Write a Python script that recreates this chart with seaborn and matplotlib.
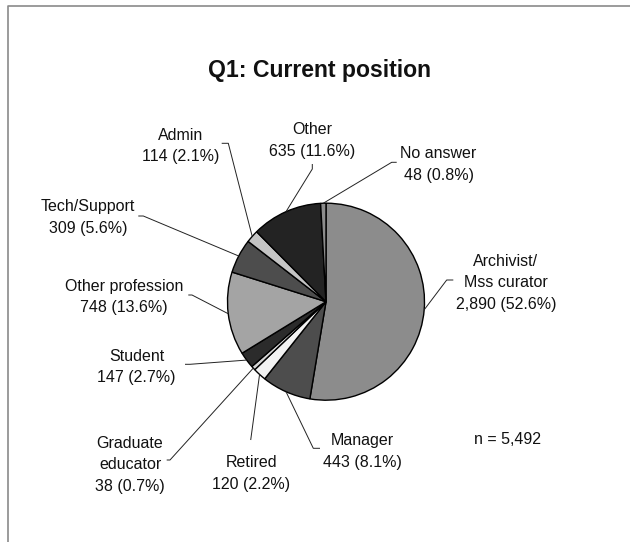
import matplotlib
matplotlib.use("Agg")
import matplotlib.pyplot as plt
import seaborn as sns
import numpy as np
from matplotlib.lines import Line2D

# ---- data ----
categories = ["Archivist/\nMss curator", "Manager", "Retired", "Graduate\neducator",
              "Student", "Other profession", "Tech/Support", "Admin", "Other", "No answer"]
counts = [2890, 443, 120, 38, 147, 748, 309, 114, 635, 48]
pct_labels = ["52.6%", "8.1%", "2.2%", "0.7%", "2.7%", "13.6%", "5.6%", "2.1%", "11.6%", "0.8%"]
slice_colors = ["#8c8c8c", "#4d4d4d", "#f2f2f2", "#d4d4d4", "#2b2b2b",
                "#a4a4a4", "#4d4d4d", "#c4c4c4", "#232323", "#8c8c8c"]
title = "Q1: Current position"

sns.set_theme(style="white")
plt.rcParams["font.family"] = ["Liberation Sans", "DejaVu Sans"]

W, H = 630, 542
fig = plt.figure(figsize=(6.3, 5.42), dpi=100)
fig.patch.set_facecolor("white")
ax = fig.add_axes([0, 0, 1, 1])

total = sum(counts)
cx, cy, R = 326, 301.7, 98.5
wedges, _ = ax.pie(counts, colors=slice_colors, startangle=90, counterclock=False,
                   center=(cx, H - cy), radius=R,
                   wedgeprops=dict(edgecolor="black", linewidth=1.0))
ax.set_xlim(0, W)
ax.set_ylim(0, H)
ax.set_aspect("equal")
ax.axis("off")

# ---- layout (pixels from top-left) ----
label_x = [506, 362, 251.5, 130, 136.7, 124, 88.3, 181, 312.3, 438.5]
label_y0 = [260, 439.3, 461.5, 441.7, 355, 285, 205.7, 134, 128.3, 152.7]
elbows = [
    [(453.3, 280), (446.7, 280)],
    [(320, 448.3), (313.3, 448.3)],
    [(250.7, 440)],
    [(166.7, 460), (170, 460)],
    [(185, 364.3), (190, 364.3)],
    [(188.3, 295), (192, 295)],
    [(138.3, 216), (143.3, 216)],
    [(221.7, 143.3), (228.3, 143.3)],
    [(312.3, 164), (312.3, 169)],
    [(396.7, 162.3), (391.7, 162.3)],
]
line_gap = 21.5
fs = 11.5
half_cap = 5.8
txt_color = "#111111"

for w, cat, cnt, pct, lx, ly, el in zip(wedges, categories, counts, pct_labels,
                                         label_x, label_y0, elbows):
    lines = cat.split("\n") + [f"{cnt:,} ({pct})"]
    for i, s in enumerate(lines):
        ax.text(lx, H - (ly + i * line_gap + half_cap), s, ha="center", va="baseline",
                fontsize=fs, color=txt_color)
    mid = np.deg2rad((w.theta1 + w.theta2) / 2)
    px = cx + R * np.cos(mid)
    py = (H - cy) + R * np.sin(mid)
    xs = [p[0] for p in el] + [px]
    ys = [H - p[1] for p in el] + [py]
    ax.plot(xs, ys, color="#222222", lw=0.7, solid_capstyle="butt")

ax.text(319.5, H - 76.7, title, ha="center", va="baseline", fontsize=16.6,
        fontweight="bold", color=txt_color)
ax.text(508, H - (438 + half_cap), f"n = {total:,}", ha="center", va="baseline",
        fontsize=fs, color=txt_color)

# partial frame (top and left edges)
ax.add_line(Line2D([8, 8, 630], [0, H - 6, H - 6], color="#8a8a8a", lw=1.2,
                   clip_on=False))

fig.savefig("out.png", dpi=100, facecolor="white")
